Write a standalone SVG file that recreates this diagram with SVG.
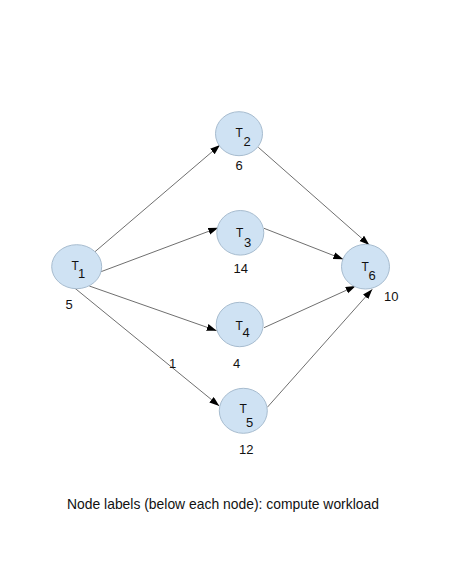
<svg xmlns="http://www.w3.org/2000/svg" width="474" height="562" viewBox="0 0 474 562">
<style>
.node{fill:#cfe2f3;stroke:#a7bccf;stroke-width:1}
.edge{stroke:#4a4a4a;stroke-width:0.8;fill:none;marker-end:url(#arr)}
.t{font-family:"Liberation Sans",Arial,sans-serif;font-size:12px;fill:#111}
.s{font-family:"Liberation Sans",Arial,sans-serif;font-size:13px;fill:#111}
.w{font-family:"Liberation Sans",Arial,sans-serif;font-size:13px;fill:#111}
</style>
<defs>
<marker id="arr" markerUnits="userSpaceOnUse" markerWidth="10" markerHeight="8" refX="10" refY="3.5" orient="auto">
<path d="M0,0 L10,3.5 L0,7 z" fill="#000"/>
</marker>
</defs>
<rect width="474" height="562" fill="#fff"/>
<g id="connectors">
<line class="edge" x1="95" y1="251.7" x2="220" y2="145"/>
<line class="edge" x1="101" y1="271.7" x2="218.3" y2="227.7"/>
<line class="edge" x1="89.3" y1="286" x2="216.7" y2="330.7"/>
<line class="edge" x1="75" y1="288.3" x2="219.3" y2="406"/>
<line class="edge" x1="258.3" y1="147.3" x2="369.3" y2="245"/>
<line class="edge" x1="264" y1="228.3" x2="343.3" y2="259.3"/>
<line class="edge" x1="264" y1="327.7" x2="355.7" y2="286"/>
<line class="edge" x1="267.3" y1="407.3" x2="372.3" y2="289.3"/>
<text class="w" x="169" y="367.5">1</text>
</g>
<g id="T1">
<ellipse class="node" cx="76.7" cy="266.7" rx="25" ry="22"/>
<text class="t" x="71.5" y="270">T</text><text class="s" x="78" y="277.7">1</text>
<text class="w" x="65.5" y="309.3">5</text>
</g>
<g id="T2">
<ellipse class="node" cx="239" cy="133.7" rx="23.5" ry="22"/>
<text class="t" x="235.5" y="136.7">T</text><text class="s" x="243.5" y="145.7">2</text>
<text class="w" x="235.5" y="170.3">6</text>
</g>
<g id="T3">
<ellipse class="node" cx="240.3" cy="232.8" rx="23.5" ry="22.3"/>
<text class="t" x="236" y="237.3">T</text><text class="s" x="244" y="246.7">3</text>
<text class="w" x="233.5" y="273.3">14</text>
</g>
<g id="T4">
<ellipse class="node" cx="239.7" cy="324.5" rx="23.5" ry="22.2"/>
<text class="t" x="235.5" y="330">T</text><text class="s" x="242.5" y="337.3">4</text>
<text class="w" x="233" y="367.7">4</text>
</g>
<g id="T5">
<ellipse class="node" cx="243.3" cy="410.8" rx="24" ry="22.5"/>
<text class="t" x="239.5" y="413.3">T</text><text class="s" x="246" y="427.3">5</text>
<text class="w" x="239" y="454">12</text>
</g>
<g id="T6">
<ellipse class="node" cx="365.5" cy="266.7" rx="24" ry="22.3"/>
<text class="t" x="361.5" y="271">T</text><text class="s" x="368.5" y="280">6</text>
<text class="w" x="384" y="301">10</text>
</g>
<text x="67" y="508.5" font-family="'Liberation Sans',Arial,sans-serif" font-size="13.9" fill="#111">Node labels (below each node): compute workload</text>
</svg>
